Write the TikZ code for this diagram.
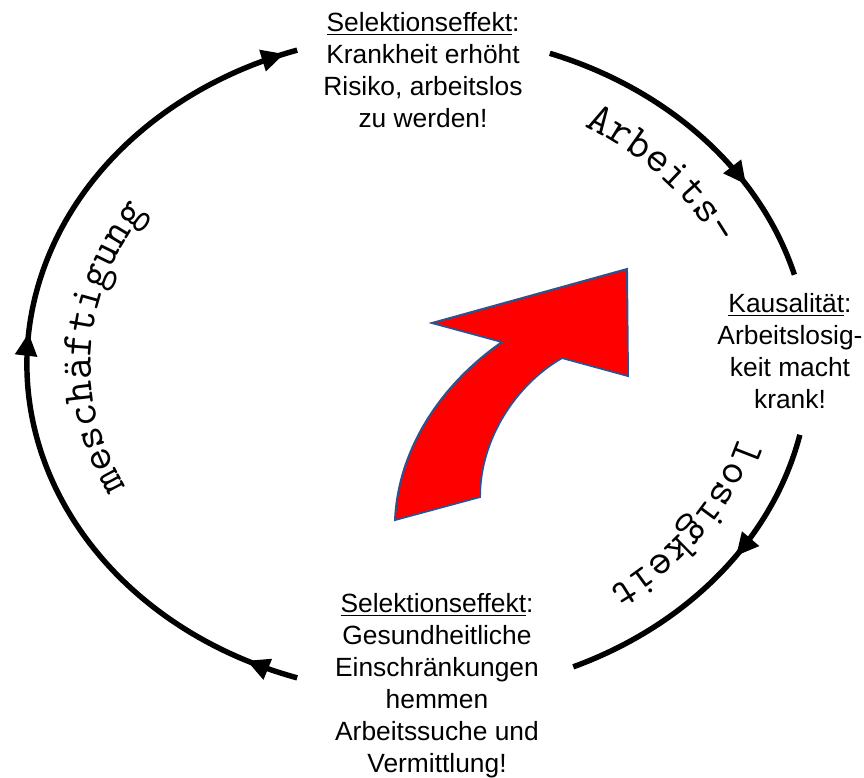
\documentclass[tikz,border=0pt]{standalone}
\usepackage{fontspec}
\setmainfont{Liberation Sans}
\usepackage{tikz}
\usetikzlibrary{arrows.meta,decorations.markings,decorations.text}
\definecolor{arrowred}{HTML}{FF0000}
\definecolor{arrowedge}{HTML}{2F528F}
\newcommand{\loopfont}{\ttfamily\fontsize{25}{25}\selectfont}

\tikzset{
  tipat/.style={postaction={decorate,decoration={markings,
      mark=at position #1 with {\arrow{Triangle[length=13pt,width=12pt]}}}}}
}

\begin{document}
\begin{tikzpicture}[
  font=\fontsize{15}{18.2}\selectfont,
  note/.style={align=center,inner sep=0pt,anchor=north},
  cyc/.style={line width=3.1pt,draw=black},
  wordarc/.style={decorate,decoration={text along path,
      text={|\loopfont|#1},text align=center}},
  bigarrow/.style={fill=arrowred,draw=arrowedge,line width=1.1pt,line join=miter}
]
\useasboundingbox (0,0) rectangle (17.28,15.56);
\coordinate (c) at (8.36,8.28);

% --- texts
\node[note] (selTop) at (8.46,15.32)
  {\underline{Selektionseffekt}:\\Krankheit erhöht\\Risiko, arbeitslos\\zu werden!};
\node[note] (kausal) at (15.80,9.70)
  {\underline{Kausalität}:\\Arbeitslosig-\\keit macht\\krank!};
\node[note] (selBot) at (8.74,3.70)
  {\underline{Selektionseffekt}:\\Gesundheitliche\\Einschränkungen\\hemmen\\Arbeitssuche und\\Vermittlung!};

% --- arc ends
\coordinate (botL) at ([shift={(252:7.82cm and 6.60cm)}]c);
\coordinate (topR) at ([shift={(70.3:7.82cm and 6.60cm)}]c);
\coordinate (midR) at ([shift={(-12.4:7.82cm and 6.60cm)}]c);

% --- cycle
\draw[cyc,tipat=0.06,tipat=0.535,tipat=0.985] (botL)
  arc[start angle=252,end angle=108,x radius=7.82cm,y radius=6.60cm];
\draw[cyc,tipat=0.70] (topR)
  arc[start angle=70.3,end angle=15.7,x radius=7.82cm,y radius=6.60cm];
\draw[cyc,tipat=0.41] (midR)
  arc[start angle=-12.4,end angle=-66.6,x radius=7.82cm,y radius=6.60cm];

% --- words along the cycle
\path[wordarc=Arbeits-] ([shift={(66.2:6.62cm and 5.50cm)}]c)
  arc[start angle=66.2,end angle=18.2,x radius=6.62cm,y radius=5.50cm];
\path[wordarc=losigkeit] ([shift={(-8.9:6.64cm and 5.50cm)}]c)
  arc[start angle=-8.9,end angle=-60.9,x radius=6.64cm,y radius=5.50cm];
\path[wordarc=meschäftigung] ([shift={(212.5:6.54cm and 5.50cm)}]c)
  arc[start angle=212.5,end angle=140.5,x radius=6.54cm,y radius=5.50cm];

% --- red arrow
\draw[bigarrow] (7.90,5.16) .. controls (7.96,6.56) and (8.80,7.86) .. (10.04,8.72)
  -- (8.64,9.10) -- (12.54,10.18) -- (12.56,8.04) -- (11.24,8.40)
  .. controls (10.30,7.86) and (9.60,6.76) .. (9.60,5.62) -- cycle;
\end{tikzpicture}
\end{document}
